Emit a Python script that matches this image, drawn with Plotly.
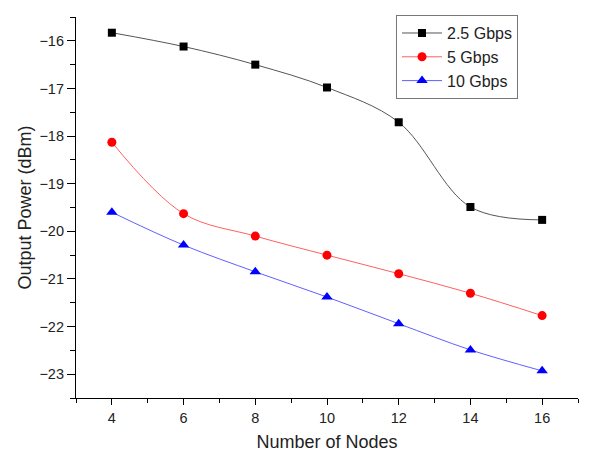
import plotly.graph_objects as go

nodes = [4, 6, 8, 10, 12, 14, 16]
p_2_5 = [-15.83, -16.12, -16.50, -16.98, -17.71, -19.49, -19.76]
p_5 = [-18.13, -19.63, -20.10, -20.50, -20.89, -21.30, -21.77]
p_10 = [-19.60, -20.29, -20.85, -21.38, -21.94, -22.49, -22.93]
series_names = ["2.5 Gbps", "5 Gbps", "10 Gbps"]
x_ticks = [4, 6, 8, 10, 12, 14, 16]
y_ticks = [-16, -17, -18, -19, -20, -21, -22, -23]

FONT = "Arial, Liberation Sans, sans-serif"

fig = go.Figure()
styles = [
    (p_2_5, "#555555", "#000000", "square", 8),
    (p_5, "#ff6060", "#ff0000", "circle", 9),
    (p_10, "#6060ff", "#0000ff", "triangle-up", 10),
]
for name, (vals, lc, mc, sym, sz) in zip(series_names, styles):
    fig.add_trace(go.Scatter(
        x=nodes, y=vals, name=name, mode="lines+markers",
        line=dict(color=lc, width=1, shape="spline", smoothing=1),
        marker=dict(color=mc, symbol=sym, size=sz, line=dict(width=0)),
    ))

axis_common = dict(
    showline=True, linecolor="black", linewidth=1.2, mirror=False,
    showgrid=False, zeroline=False, ticks="outside", tickcolor="black",
    tickwidth=1.2, tickfont=dict(family=FONT, size=14.5, color="#222"),
    automargin=False,
)

fig.update_xaxes(
    range=[3, 17], tickvals=x_ticks, ticklen=6,
    minor=dict(dtick=1, tick0=3, ticks="outside", ticklen=4, tickcolor="black", tickwidth=1),
    title=dict(text="Number of Nodes", font=dict(family=FONT, size=18, color="#222"), standoff=11),
    **axis_common,
)
fig.update_yaxes(
    range=[-23.5, -15.5], tickvals=y_ticks, ticklen=8,
    minor=dict(dtick=0.5, tick0=-23.5, ticks="outside", ticklen=5, tickcolor="black", tickwidth=1),
    title=dict(text="Output Power (dBm)", font=dict(family=FONT, size=18, color="#222"), standoff=3),
    **axis_common,
)

# page has an 8px body margin, so the figure is sized to fit the 592x452 window
fig.update_layout(
    width=584, height=444,
    margin=dict(l=68, r=14, t=9, b=54, autoexpand=False),
    plot_bgcolor="white", paper_bgcolor="white",
    font=dict(family=FONT, color="#222"),
    legend=dict(
        x=0.6375, y=1.005, xanchor="left", yanchor="top",
        bgcolor="white", bordercolor="#777", borderwidth=1,
        font=dict(family=FONT, size=16, color="#222"),
        tracegroupgap=0, itemwidth=40,
    ),
    showlegend=True,
)

fig.write_html("out.html")
